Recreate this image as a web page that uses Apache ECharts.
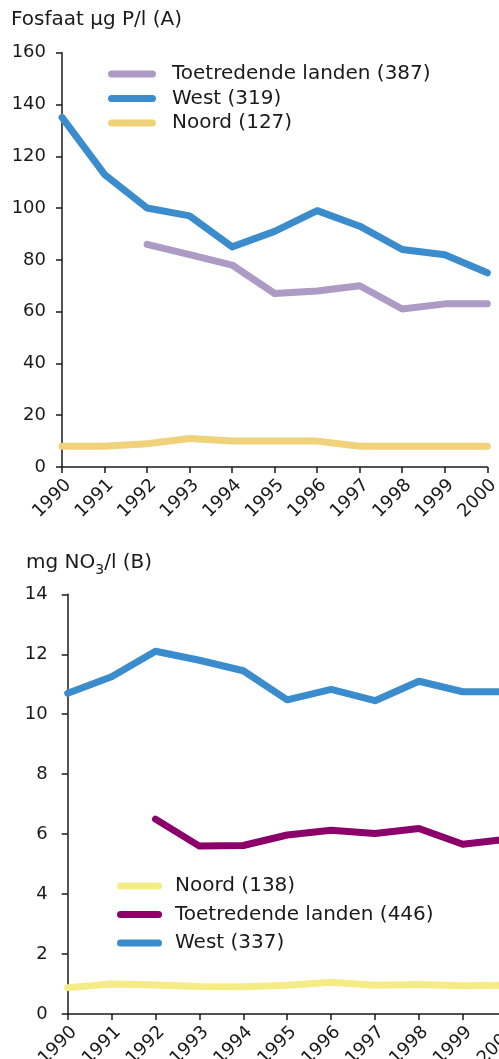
<!DOCTYPE html>
<html>
<head>
<meta charset="utf-8">
<script src="https://cdn.jsdelivr.net/npm/echarts@6/dist/echarts.min.js"></script>
<style>
  html, body { margin: 0; padding: 0; background: #fff; overflow: hidden; }
  /* the nitrate panel runs a little past the right edge of the page */
  #chart { width: 520px; height: 1059px; }
</style>
</head>
<body>
<div id="chart"></div>
<script>
// Years on the horizontal axis of both panels
const years = ['1990', '1991', '1992', '1993', '1994', '1995', '1996', '1997', '1998', '1999', '2000'];

// Panel A: phosphate, µg P/l
const phosWest = [135, 113, 100, 97, 85, 91, 99, 93, 84, 82, 75];
const phosToetredend = [null, null, 86, 82, 78, 67, 68, 70, 61, 63, 63];
const phosNoord = [8, 8, 9, 11, 10, 10, 10, 8, 8, 8, 8];

// Panel B: nitrate, mg NO3/l
const nitWest = [10.7, 11.25, 12.1, 11.8, 11.45, 10.48, 10.83, 10.45, 11.1, 10.75, 10.75];
const nitToetredend = [null, null, 6.5, 5.6, 5.62, 5.97, 6.13, 6.02, 6.19, 5.66, 5.83];
const nitNoord = [0.88, 1.0, 0.97, 0.92, 0.91, 0.96, 1.06, 0.96, 0.98, 0.94, 0.96];

// Legend names (number of stations in brackets)
const namesA = ['Toetredende landen (387)', 'West (319)', 'Noord (127)'];
const namesB = ['Noord (138)', 'Toetredende landen (446)', 'West (337)'];

const FONT = '"DejaVu Sans", Verdana, sans-serif';
const INK = '#1a1a1a';

const chart = echarts.init(document.getElementById('chart'), null, { renderer: 'canvas' });

function capsule(w, h) {
  const r = h / 2;
  return 'path://M' + r + ',0H' + (w - r) + 'A' + r + ',' + r + ',0,0,1,' + (w - r) + ',' + h +
         'H' + r + 'A' + r + ',' + r + ',0,0,1,' + r + ',0Z';
}

function xAxisFor(gridIndex) {
  return {
    type: 'category', gridIndex, data: years, boundaryGap: false,
    axisLine: { show: true, lineStyle: { color: INK, width: 1.5 } },
    axisTick: { show: true, length: 6, lineStyle: { color: INK, width: 1.5 } },
    axisLabel: {
      interval: 0, rotate: 45, margin: 9, verticalAlign: 'top',
      fontFamily: FONT, fontSize: 18, color: INK
    },
    splitLine: { show: false }
  };
}

function yAxisFor(gridIndex, max, interval, margin) {
  return {
    type: 'value', gridIndex, min: 0, max, interval,
    axisLine: { show: true, lineStyle: { color: INK, width: 1.5 } },
    axisTick: { show: true, length: 6, lineStyle: { color: INK, width: 1.5 } },
    axisLabel: { margin, fontFamily: FONT, fontSize: 18, color: INK },
    splitLine: { show: false }
  };
}

function lineSeries(name, data, color, idx) {
  return {
    type: 'line', name, data, xAxisIndex: idx, yAxisIndex: idx,
    color, symbol: 'none', smooth: false, connectNulls: false,
    lineStyle: { width: 7, color, cap: 'round', join: 'round' },
    emphasis: { disabled: true }, animation: false
  };
}

const option = {
  animation: false,
  backgroundColor: '#fff',
  textStyle: { fontFamily: FONT },
  title: [
    {
      text: 'Fosfaat µg P/l (A)', left: 11, top: 10, padding: 0,
      textStyle: { fontFamily: FONT, fontSize: 20, fontWeight: 'normal', color: INK, lineHeight: 20 }
    },
    {
      text: '{a|mg NO}{s|3}{a|/l (B)}', left: 26, top: 553, padding: 0,
      textStyle: {
        fontFamily: FONT, fontSize: 20, fontWeight: 'normal', color: INK,
        rich: {
          a: { fontFamily: FONT, fontSize: 20, color: INK, lineHeight: 20, verticalAlign: 'top' },
          s: { fontFamily: FONT, fontSize: 14, color: INK, lineHeight: 14, padding: [10, 0, 0, 0], verticalAlign: 'top' }
        }
      }
    }
  ],
  legend: [
    {
      data: namesA, orient: 'vertical', left: 108, top: 64, padding: 0,
      itemWidth: 48, itemHeight: 7, itemGap: 4.5, icon: capsule(48, 7),
      selectedMode: false,
      textStyle: { fontFamily: FONT, fontSize: 20, color: INK, lineHeight: 20, padding: [0, 0, 0, 11] }
    },
    {
      data: namesB, orient: 'vertical', left: 117, top: 876, padding: 0,
      itemWidth: 45, itemHeight: 7, itemGap: 8.5, icon: capsule(45, 7),
      selectedMode: false,
      textStyle: { fontFamily: FONT, fontSize: 20, color: INK, lineHeight: 20, padding: [0, 0, 0, 8] }
    }
  ],
  // fixed plot rectangles; the lower panel's labels are allowed to run off the page
  grid: [
    { left: 62, top: 52.7, width: 425.3, height: 414.3, containLabel: false, outerBoundsMode: 'none' },
    { left: 67.7, top: 594.3, width: 439, height: 419.7, containLabel: false, outerBoundsMode: 'none' }
  ],
  xAxis: [xAxisFor(0), xAxisFor(1)],
  yAxis: [yAxisFor(0, 160, 20, 16), yAxisFor(1, 14, 2, 20)],
  series: [
    lineSeries(namesA[2], phosNoord, '#f0d27a', 0),
    lineSeries(namesA[0], phosToetredend, '#ad9ac5', 0),
    lineSeries(namesA[1], phosWest, '#3a8ccc', 0),
    lineSeries(namesB[0], nitNoord, '#f6ec86', 1),
    lineSeries(namesB[1], nitToetredend, '#8c0069', 1),
    lineSeries(namesB[2], nitWest, '#3a8ccc', 1)
  ]
};

chart.setOption(option);
</script>
</body>
</html>
